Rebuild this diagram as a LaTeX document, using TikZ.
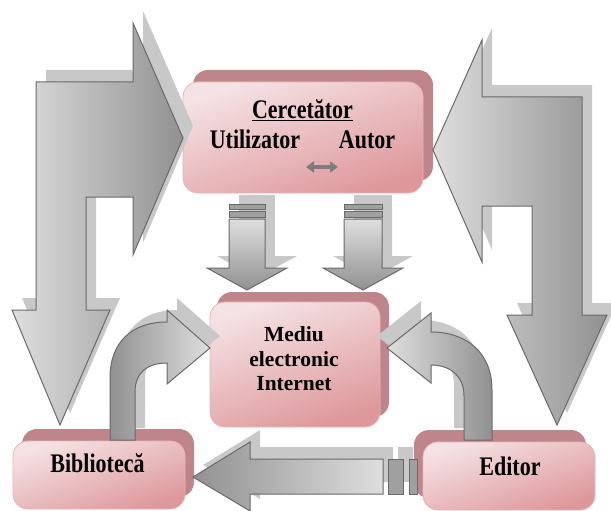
\documentclass[tikz,border=0pt]{standalone}
\usepackage{fontspec}
\setmainfont{Liberation Serif}
\usepackage{graphicx}
\usetikzlibrary{arrows.meta}
\definecolor{arrL}{RGB}{222,222,222}
\definecolor{arrD}{RGB}{145,145,145}
\definecolor{arrE}{RGB}{105,105,105}
\definecolor{arrS}{RGB}{200,200,200}
\definecolor{arrT}{RGB}{160,160,160}
\definecolor{boxL}{RGB}{245,226,228}
\definecolor{boxD}{RGB}{222,152,156}
\definecolor{boxE}{RGB}{232,180,183}
\definecolor{boxS}{RGB}{190,134,139}
\definecolor{dblc}{RGB}{125,125,125}
\newcommand{\mystretch}[1]{\scalebox{1}[1.22]{#1}}
\tikzset{
  arrLR/.style={draw=arrE, line width=1pt, line join=miter, left color=arrL, right color=arrD},
  arrRL/.style={draw=arrE, line width=1pt, line join=miter, left color=arrD, right color=arrL},
  arrTB/.style={draw=arrE, line width=1pt, line join=miter, top color=arrL, bottom color=arrD},
  arrsh/.style={fill=arrS},
  stripe/.style={draw=arrE, line width=0.8pt, fill=arrT},
  pbox/.style={rectangle, rounded corners=15pt, draw=boxE, line width=0.8pt, top color=boxL, bottom color=boxD, shading angle=20, inner sep=0pt},
  pboxsh/.style={rectangle, rounded corners=15pt, fill=boxS, inner sep=0pt},
  lbl/.style={font=\fontsize{22}{24}\selectfont\bfseries, inner sep=0pt, anchor=base},
  mlbl/.style={font=\fontsize{21.5}{24.5}\selectfont\bfseries, inner sep=0pt, align=center},
  dbl/.style={draw=dblc, line width=3.2pt, {Triangle[length=8pt,width=11pt]}-{Triangle[length=8pt,width=11pt]}}
}
\def\leftbig{(36,82) -- (133,82) -- (133,23) -- (183,138) -- (133,255) -- (133,197) -- (86,197) -- (86,310) -- (110,310) -- (60,425) -- (12,310) -- (36,310) -- cycle}
\def\rightbig{(582,97) -- (482,97) -- (482,40) -- (433,150) -- (482,262) -- (482,206) -- (532,206) -- (532,315) -- (507,315) -- (557,425) -- (607,315) -- (582,315) -- cycle}
\def\downA{(229,219) -- (265,219) -- (265,268) -- (287,268) -- (247,290) -- (207,268) -- (229,268) -- cycle}
\def\downB{(344,219) -- (382,219) -- (382,268) -- (403,268) -- (363,290) -- (323,268) -- (344,268) -- cycle}
\def\bottomarr{(383,459) -- (250,459) -- (250,442) -- (193,477) -- (250,511) -- (250,494) -- (383,494) -- cycle}
\def\curveL{(110,440) -- (110,378) .. controls (110,342) and (132,322) .. (167,322) -- (167,310) -- (210,348) -- (167,384) -- (167,363) .. controls (148,363) and (135,372) .. (135,392) -- (135,440) -- cycle}
\def\curveR{(492,440) -- (492,390) .. controls (492,352) and (466,332) .. (431,332) -- (431,313) -- (387,348) -- (431,383) -- (431,365) .. controls (450,365) and (464,376) .. (464,396) -- (464,440) -- cycle}
\begin{document}
\begin{tikzpicture}[x=1pt,y=-1pt]
\useasboundingbox (0,0) rectangle (611,511);
% boxes
\node[pboxsh, minimum width=240pt, minimum height=111pt] (cerS) at (313,125.5) {};
\node[pbox, minimum width=240pt, minimum height=111pt] (cer) at (303,137.5) {};
\node[pboxsh, minimum width=172pt, minimum height=125pt] (medS) at (303,354.5) {};
\node[pbox, minimum width=170pt, minimum height=125pt] (med) at (295,364.5) {};
\node[pboxsh, minimum width=172pt, minimum height=68pt] (bibS) at (108,463) {};
\node[pbox, minimum width=172pt, minimum height=68pt] (bib) at (99,475) {};
% bottom arrow shadow (under Editor)
\path[arrsh, shift={(10,-12)}] \bottomarr;
\fill[arrS] (398,447) rectangle (413,482);
\node[pboxsh, minimum width=172pt, minimum height=68pt] (ediS) at (500,464) {};
\node[pbox, minimum width=172pt, minimum height=68pt] (edi) at (509,476) {};
% big arrows
\path[arrsh, shift={(10,-12)}] \leftbig;
\path[arrLR] \leftbig;
\path[arrsh, shift={(10,-12)}] \rightbig;
\path[arrLR] \rightbig;
% down arrows
\fill[arrS] (239,195) rectangle (275,210);
\path[arrsh, shift={(10,-12)}] \downA;
\fill[arrS] (354,195) rectangle (392,210);
\path[arrsh, shift={(10,-12)}] \downB;
\path[stripe] (229,204) rectangle (265,209);
\path[stripe] (229,211) rectangle (265,217);
\path[arrTB] \downA;
\path[stripe] (344,204) rectangle (382,209);
\path[stripe] (344,211) rectangle (382,217);
\path[arrTB] \downB;
% curved arrows
\path[arrsh, shift={(10,-12)}] \curveL;
\path[arrRL] \curveL;
\path[arrsh, shift={(-10,-12)}] \curveR;
\path[arrLR] \curveR;
% bottom arrow
\path[arrRL] \bottomarr;
\path[stripe] (388,459) rectangle (403,494);
\path[stripe] (409,459) rectangle (417,494);
% labels
\node[lbl] (cerT) at (302.5,118) {\mystretch{\underline{Cercetător}}};
\node[lbl] (util) at (255,148) {\mystretch{Utilizator}};
\node[lbl] (aut) at (367,148) {\mystretch{Autor}};
\coordinate (dA) at (306,167);
\coordinate (dB) at (338,167);
\draw[dbl] (dA) -- (dB);
\node[mlbl] (medT) at (294,359) {Mediu\\electronic\\Internet};
\node[lbl] (bibT) at (97.5,472) {\mystretch{Bibliotecă}};
\node[lbl] (ediT) at (510,475) {\mystretch{Editor}};
\end{tikzpicture}
\end{document}
